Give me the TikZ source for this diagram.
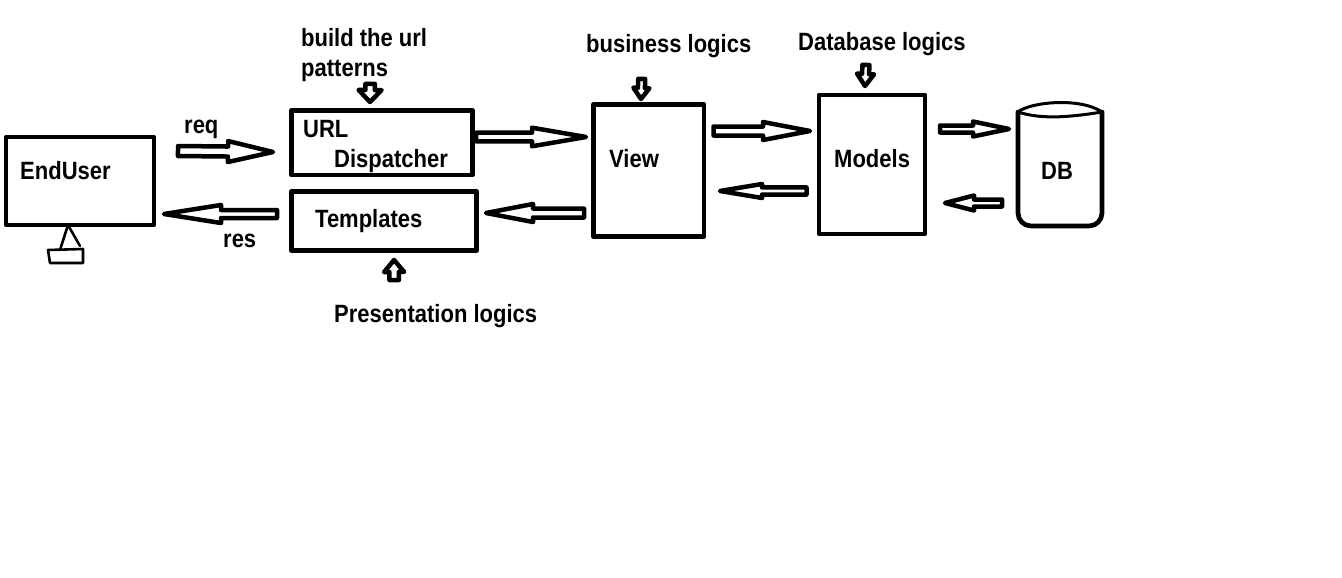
\documentclass[tikz,border=0pt]{standalone}
\usepackage{fontspec}
\setmainfont[FakeStretch=0.88]{Liberation Sans Bold}
\usetikzlibrary{calc}
\begin{document}
\begin{tikzpicture}[x=1pt,y=-1pt,line join=round,line cap=round,font=\fontsize{25}{30}\selectfont,
    boxnode/.style={draw,line width=4.7pt,rectangle,outer sep=0pt,inner sep=0pt},
    lbl/.style={anchor=west,inner sep=0pt,align=left},
    blockarrow/.style n args={3}{line width=4.5pt,to path={
        -- ($(\tikztostart)!#1pt!90:(\tikztotarget)$)
        -- ($(\tikztotarget)!#3pt!(\tikztostart)!#1pt!90:(\tikztotarget)$)
        -- ($(\tikztotarget)!#3pt!(\tikztostart)!#2pt!90:(\tikztotarget)$)
        -- (\tikztotarget)
        -- ($(\tikztotarget)!#3pt!(\tikztostart)!#2pt!-90:(\tikztotarget)$)
        -- ($(\tikztotarget)!#3pt!(\tikztostart)!#1pt!-90:(\tikztotarget)$)
        -- ($(\tikztostart)!#1pt!-90:(\tikztotarget)$)
        -- cycle}}]
    \useasboundingbox (0,0) rectangle (1342,578);
    % boxes
    \node[boxnode,minimum width=148pt,minimum height=88pt] (enduser) at (80,181) {};
    \node[boxnode,minimum width=181pt,minimum height=64.5pt] (url) at (382,142.75) {};
    \node[boxnode,minimum width=185pt,minimum height=59pt] (templates) at (384,221) {};
    \node[boxnode,minimum width=110.5pt,minimum height=132pt] (view) at (648.75,170.5) {};
    \node[boxnode,minimum width=106pt,minimum height=139pt] (models) at (872,164.5) {};
    \node[inner sep=0pt,outer sep=0pt,minimum width=84pt,minimum height=114pt] (db) at (1060,169) {};
    \draw[line width=4.7pt] (db.north west)--($(db.south west)+(0,-13)$) arc[start angle=180,end angle=90,radius=13]
        --($(db.south east)+(-13,0)$) arc[start angle=90,end angle=0,radius=13]--(db.north east);
    \draw[line width=3pt] (db.north west) .. controls (1030,102) and (1080,97) .. (db.north east);
    \draw[line width=3pt] (db.north west) .. controls (1040,119) and (1065,118) .. (db.north east);
    % stand under the screen
    \draw[line width=2.6pt] ([xshift=-12]enduser.south) -- ++(-8,25);
    \draw[line width=2.6pt] ([xshift=-12]enduser.south) -- ++(12,21);
    \draw[line width=2.6pt] (48,250)--(83,249)--(83,263)--(50,263)--cycle;
    % texts
    \node[lbl] (endusertext) at (20,171) {EndUser};
    \node[lbl] (urltext) at (303,146.5) {URL\\\hspace*{31pt}Dispatcher};
    \node[lbl] (templatestext) at (315,221) {Templates};
    \node[lbl] (viewtext) at (609,159) {View};
    \node[lbl] (modelstext) at (834,159) {Models};
    \node[lbl] (dbtext) at (1041,171) {DB};
    \node[lbl] (reqtext) at (184,129) {req};
    \node[lbl] (restext) at (223,241) {res};
    \node[lbl] (buildtext) at (301,55) {build the url\\patterns};
    \node[lbl] (businesstext) at (586,46) {business logics};
    \node[lbl] (databasetext) at (798,44) {Database logics};
    \node[lbl] (presenttext) at (334,316) {Presentation logics};
    % connectors
    \draw[blockarrow={5}{10.5}{45}] ([xshift=24,yshift=30]enduser.east) to ([xshift=-18.5,yshift=-9.25]url.west);
    \draw[blockarrow={4}{9}{57}] ([xshift=-14.5,yshift=7]templates.west) to ([xshift=10,yshift=-33]enduser.east);
    \draw[blockarrow={4.3}{9.3}{54}] ([xshift=3.5,yshift=5.75]url.east) to ([xshift=-7.5,yshift=33.5]view.west);
    \draw[blockarrow={4.5}{9}{47}] ([xshift=-9.5,yshift=-42.5]view.west) to ([xshift=9.5,yshift=8]templates.east);
    \draw[blockarrow={4.5}{9}{47}] ([xshift=9.5,yshift=39.5]view.east) to ([xshift=-9,yshift=33.5]models.west);
    \draw[blockarrow={3.6}{7}{42}] ([xshift=-12.5,yshift=-26.5]models.west) to ([xshift=16,yshift=-20.5]view.east);
    \draw[blockarrow={3.5}{7.5}{36}] ([xshift=15,yshift=35.5]models.east) to ([xshift=-9,yshift=40]db.west);
    \draw[blockarrow={3.5}{7.5}{29}] ([xshift=-16,yshift=-34]db.west) to ([xshift=20,yshift=-38.5]models.east);
    \draw[blockarrow={4.7}{11.5}{12}] ([xshift=6,yshift=-2]buildtext.south) to ([xshift=-12,yshift=8.5]url.north);
    \draw[blockarrow={4.7}{10}{12}] ([xshift=-41.5,yshift=24]presenttext.north) to ([xshift=10,yshift=-9.5]templates.south);
    \draw[blockarrow={3.5}{8}{11}] ([xshift=-27,yshift=-21]businesstext.south) to ([xshift=-7.75,yshift=5.5]view.north);
    \draw[blockarrow={3.5}{8.5}{12}] ([xshift=-16,yshift=-9]databasetext.south) to ([xshift=-7,yshift=9]models.north);
\end{tikzpicture}
\end{document}
